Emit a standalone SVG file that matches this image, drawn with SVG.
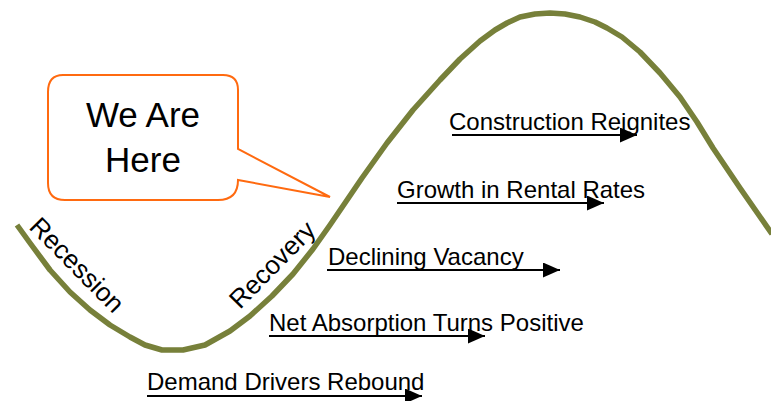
<svg xmlns="http://www.w3.org/2000/svg" width="771" height="401" viewBox="0 0 771 401">
<defs>
<style>
.lbl{font-family:"Liberation Sans",Arial,sans-serif;font-size:24px;fill:#000}
.rot{font-family:"Liberation Sans",Arial,sans-serif;font-size:26px;fill:#000}
.big{font-family:"Liberation Sans",Arial,sans-serif;font-size:35px;fill:#000;text-anchor:middle}
.arr{stroke:#000;stroke-width:2;fill:none;marker-end:url(#ah)}
.curve{stroke:#77803A;stroke-width:5.5;fill:none;stroke-linejoin:round}
</style>
<marker id="ah" markerWidth="17" markerHeight="15" refX="17" refY="7.5" orient="auto" markerUnits="userSpaceOnUse">
<path d="M0,0 L17,7.5 L0,15 Z" fill="#000"/>
</marker>
</defs>
<rect width="771" height="401" fill="#fff"/>
<g id="cycle-curve">
<polyline class="curve" points="17,225 30,243 50,270 70,292 90,310 110,325 130,337 145,345 162,350 183,350 205,345 230,331 250,316 272,296 293,274 313,249 330,225 345,203 362,178 387,143 413,110 440,80 460,59 480,41 495,30 507,23 520,17 535,14 550,13 565,14 580,17 595,22 607,28 622,37 640,52 660,73 680,97 697,122 713,148 740,188 772,234"/>
</g>
<g id="bubble">
<path d="M63,75 L223,75 Q238,75 238,90 L238,149 L330,197 L238,180 Q238,200 218,200 L65,200 Q48,200 48,183 L48,92 Q48,75 63,75 Z" fill="#fff" stroke="#FF6A10" stroke-width="2"/>
<text class="big" x="143" y="127">We Are</text>
<text class="big" x="143" y="172">Here</text>
</g>
<g id="phase-labels">
<text class="rot" transform="translate(28,228) rotate(45.3)">Recession</text>
<text class="rot" transform="translate(240,310) rotate(-45.4)">Recovery</text>
</g>
<g id="connectors">
<line class="arr" x1="452" y1="135" x2="637" y2="135"/>
<line class="arr" x1="397" y1="203" x2="604" y2="203"/>
<line class="arr" x1="327" y1="270" x2="560" y2="270"/>
<line class="arr" x1="269" y1="336" x2="485" y2="336"/>
<line class="arr" x1="147" y1="396" x2="422" y2="396"/>
</g>
<g id="stage-construction"><text class="lbl" x="449" y="130">Construction Reignites</text></g>
<g id="stage-rental"><text class="lbl" x="397" y="198">Growth in Rental Rates</text></g>
<g id="stage-vacancy"><text class="lbl" x="328" y="265">Declining Vacancy</text></g>
<g id="stage-absorption"><text class="lbl" x="269" y="331">Net Absorption Turns Positive</text></g>
<g id="stage-demand"><text class="lbl" x="147" y="390">Demand Drivers Rebound</text></g>
</svg>
